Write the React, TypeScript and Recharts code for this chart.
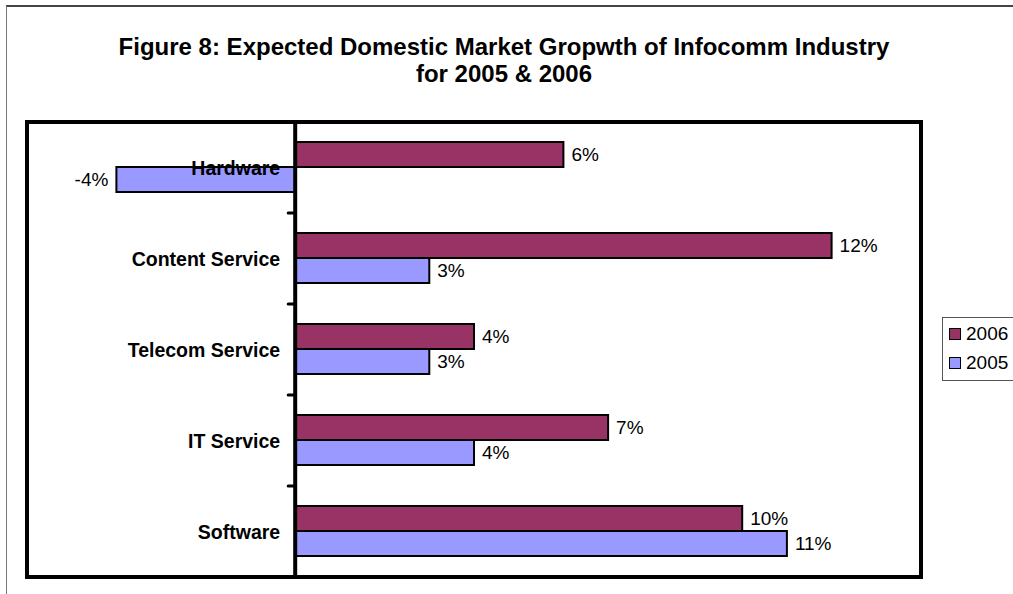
import React from 'react';
import {
  BarChart,
  Bar,
  XAxis,
  YAxis,
  LabelList,
  ReferenceLine,
  ReferenceDot,
  Legend,
} from 'recharts';

const categories = ['Hardware', 'Content Service', 'Telecom Service', 'IT Service', 'Software'];
const values2006 = [6, 12, 4, 7, 10];
const values2005 = [-4, 3, 3, 4, 11];
const seriesNames = ['2006', '2005'];
const titleLines = ['Figure 8: Expected Domestic Market Gropwth of Infocomm Industry', 'for 2005 & 2006'];

const data = categories.map((c, i) => ({
  category: c,
  y2006: values2006[i],
  y2005: values2005[i],
}));

const FONT = '"Liberation Sans", Arial, sans-serif';
const W = 1013;
const H = 594;
const MARGIN = { top: 122, right: 92, bottom: 17, left: 27 };
const BAND = (H - MARGIN.top - MARGIN.bottom) / categories.length;

const pct = (v: any) => `${v}%`;

const CategoryMark = (props: any) => {
  const { cx, cy, idx } = props;
  const last = idx === categories.length - 1;
  return (
    <g>
      <text
        x={cx - 15}
        y={cy}
        textAnchor="end"
        dominantBaseline="central"
        fontFamily={FONT}
        fontWeight="bold"
        fontSize={19.5}
        fill="#000"
      >
        {categories[idx]}
      </text>
      {!last && (
        <line
          x1={cx - 7}
          x2={cx}
          y1={cy + BAND / 2}
          y2={cy + BAND / 2}
          stroke="#000"
          strokeWidth={3}
          strokeLinecap="round"
        />
      )}
    </g>
  );
};

const renderLegend = (props: any) => {
  const payload = [...(props.payload || [])].sort(
    (a: any, b: any) => seriesNames.indexOf(String(a.value)) - seriesNames.indexOf(String(b.value))
  );
  return (
    <div
      style={{
        border: '1px solid #555',
        background: '#fff',
        padding: '1px 0 3px 6px',
        width: 100,
        boxSizing: 'border-box',
      }}
    >
      {payload.map((p: any) => (
        <div
          key={p.value}
          style={{ display: 'flex', alignItems: 'center', height: 29 }}
        >
          <div
            style={{
              width: 12,
              height: 12,
              boxSizing: 'border-box',
              border: '1.5px solid #000',
              background: p.color,
              marginRight: 5,
            }}
          />
          <span style={{ fontFamily: FONT, fontSize: 19, color: '#000' }}>{p.value}</span>
        </div>
      ))}
    </div>
  );
};

export default function App() {
  return (
    <div
      style={{
        position: 'absolute',
        left: 0,
        top: 0,
        width: W,
        height: H,
        overflow: 'hidden',
        background: '#fff',
      }}
    >
      <div
        style={{
          position: 'absolute',
          left: 6,
          top: 5,
          width: 1200,
          height: 800,
          borderTop: '2px solid #444',
          borderLeft: '1px solid #777',
        }}
      />
      <div
        style={{
          position: 'absolute',
          left: 0,
          top: 33,
          width: 1008,
          textAlign: 'center',
          fontFamily: FONT,
          fontWeight: 'bold',
          fontSize: 24,
          lineHeight: '27px',
          color: '#000',
        }}
      >
        {titleLines.map((t) => (
          <div key={t}>{t}</div>
        ))}
      </div>
      <div
        style={{
          position: 'absolute',
          left: 25,
          top: 120,
          width: 898,
          height: 459,
          border: '4px solid #000',
          boxSizing: 'border-box',
        }}
      />
      <div style={{ position: 'absolute', left: 0, top: 0 }}>
        <BarChart
          width={W}
          height={H}
          layout="vertical"
          data={data}
          margin={MARGIN}
          barCategoryGap="22%"
          barGap={0}
        >
          <XAxis type="number" domain={[-6, 14]} hide allowDataOverflow />
          <YAxis type="category" dataKey="category" hide width={0} />
          <Bar
            dataKey="y2006"
            name={seriesNames[0]}
            fill="#993366"
            stroke="#000"
            strokeWidth={2}
            isAnimationActive={false}
          >
            <LabelList
              dataKey="y2006"
              position="right"
              offset={8}
              formatter={pct}
              style={{ fontFamily: FONT, fontSize: 19, fill: '#000' }}
            />
          </Bar>
          <Bar
            dataKey="y2005"
            name={seriesNames[1]}
            fill="#9999FF"
            stroke="#000"
            strokeWidth={2}
            isAnimationActive={false}
          >
            <LabelList
              dataKey="y2005"
              position="right"
              offset={8}
              formatter={pct}
              style={{ fontFamily: FONT, fontSize: 19, fill: '#000' }}
            />
          </Bar>
          <ReferenceLine x={0} stroke="#000" strokeWidth={4} />
          {categories.map((c, i) => (
            <ReferenceDot
              key={c}
              x={0}
              y={c}
              r={0}
              shape={(p: any) => <CategoryMark {...p} idx={i} />}
            />
          ))}
          <Legend
            layout="vertical"
            align="center"
            verticalAlign="middle"
            content={renderLegend}
            wrapperStyle={{ position: 'absolute', left: 942, top: 317, width: 100, height: 'auto' }}
          />
        </BarChart>
      </div>
    </div>
  );
}
